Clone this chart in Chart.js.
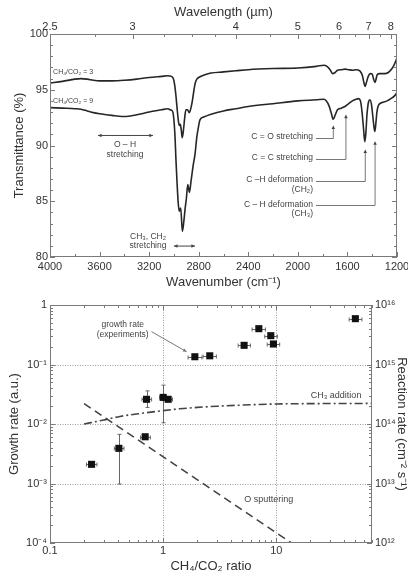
<!DOCTYPE html>
<html>
<head>
<meta charset="utf-8">
<script src="https://cdn.jsdelivr.net/npm/chart.js@4.4.0/dist/chart.umd.min.js"></script>
<style>
  html, body { margin: 0; padding: 0; background: #fff; }
  #box1 { position: absolute; left: 0; top: 0; }
  #box2 { position: absolute; left: 0; top: 292px; }
</style>
</head>
<body>
<div id="box1"><canvas id="irChart" width="408" height="292"></canvas></div>
<div id="box2"><canvas id="rateChart" width="408" height="285"></canvas></div>
<script>
// ---- IR spectra: wavenumber (cm-1) and transmittance (%) ----
const wn3 = [4000, 3900, 3800, 3750, 3700, 3650, 3600, 3500, 3400, 3300, 3200, 3100, 3050, 3020, 3005, 2995, 2985, 2975, 2965, 2957, 2948, 2940, 2933, 2922, 2912, 2903, 2890, 2876, 2862, 2850, 2838, 2828, 2815, 2800, 2750, 2700, 2600, 2500, 2400, 2200, 2000, 1850, 1790, 1765, 1740, 1720, 1705, 1680, 1650, 1620, 1590, 1560, 1530, 1500, 1480, 1468, 1458, 1448, 1432, 1415, 1400, 1390, 1378, 1370, 1360, 1340, 1300, 1270, 1240, 1220, 1200];
const trans3 = [95.6, 95.75, 95.95, 96.0, 95.95, 95.85, 95.8, 95.8, 95.85, 95.95, 96.1, 96.2, 96.25, 96.2, 96.0, 95.5, 94.6, 93.4, 92.3, 91.8, 91.9, 91.3, 90.7, 91.5, 92.6, 93.2, 93.2, 92.95, 93.4, 94.1, 95.0, 95.6, 95.95, 96.1, 96.35, 96.5, 96.6, 96.7, 96.8, 96.9, 96.95, 97.1, 97.2, 97.1, 96.8, 96.45, 96.5, 96.75, 96.8, 96.85, 96.8, 96.75, 96.8, 96.7, 96.3, 95.7, 95.3, 95.6, 96.2, 96.45, 96.4, 96.0, 95.65, 95.9, 96.35, 96.45, 96.45, 96.55, 96.9, 97.3, 97.85];

const wn9 = [4000, 3900, 3800, 3750, 3700, 3650, 3600, 3500, 3420, 3350, 3300, 3200, 3100, 3050, 3030, 3010, 2998, 2990, 2984, 2975, 2965, 2957, 2945, 2932, 2920, 2910, 2900, 2888, 2875, 2862, 2845, 2830, 2815, 2803, 2790, 2760, 2700, 2600, 2500, 2400, 2200, 2000, 1850, 1790, 1770, 1750, 1730, 1715, 1700, 1680, 1650, 1620, 1590, 1560, 1530, 1510, 1495, 1482, 1470, 1460, 1452, 1442, 1430, 1418, 1405, 1395, 1385, 1379, 1372, 1362, 1350, 1320, 1280, 1250, 1220, 1200];
const trans9 = [93.4, 93.35, 93.3, 93.25, 93.1, 92.95, 92.85, 92.7, 92.6, 92.65, 92.75, 93.0, 93.2, 93.3, 93.2, 93.05, 92.0, 90.5, 88.8, 86.7, 84.8, 84.1, 84.4, 82.3, 83.2, 84.3, 85.2, 86.5, 85.8, 86.8, 88.2, 89.2, 90.8, 91.6, 92.3, 92.55, 92.8, 93.1, 93.3, 93.5, 93.75, 94.0, 94.1, 94.15, 94.0, 93.6, 92.9, 92.35, 92.7, 93.2, 93.35, 93.5, 93.75, 94.0, 94.15, 94.2, 94.0, 93.0, 91.5, 90.35, 91.0, 92.8, 93.9, 94.1, 93.6, 92.6, 91.6, 91.25, 91.8, 93.0, 93.6, 93.85, 94.0, 94.2, 94.45, 94.75];

const wnLabels = [4000, 3600, 3200, 2800, 2400, 2000, 1600, 1200];
const transLabels = [80, 85, 90, 95, 100];
const lambdaLabels = [2.5, 3, 4, 5, 6, 7, 8];
const lambdaMinor = [2.75, 3.25, 3.5, 3.75, 4.5, 5.5, 6.5, 7.5];

// ---- growth rate vs CH4/CO2 ratio ----
const ratio    = [0.233, 0.406, 0.693, 0.713, 1.0, 1.107, 1.905, 2.58, 5.19, 7.0, 8.93, 9.42, 49.9];
const growth   = [0.0021, 0.0039, 0.0061, 0.026, 0.028, 0.026, 0.135, 0.14, 0.21, 0.40, 0.305, 0.221, 0.589];
const ratioLo  = [0.21, 0.37, 0.63, 0.65, 0.93, 1.0, 1.66, 2.25, 4.6, 6.1, 7.9, 8.3, 44];
const ratioHi  = [0.26, 0.45, 0.77, 0.79, 1.07, 1.21, 2.2, 2.95, 5.9, 8.0, 10.2, 10.7, 57];
const growthLo = [null, 0.00098, null, 0.019, 0.0105, null, null, null, null, null, null, null, null];
const growthHi = [null, 0.0067, null, 0.036, 0.045, null, null, null, null, null, null, null, null];

const ch3Ratio = [0.2, 0.3, 0.415, 0.7, 1, 1.4, 2, 3, 5, 10, 20, 40, 70];
const ch3Rate  = [0.01, 0.0117, 0.0134, 0.0154, 0.0168, 0.018, 0.019, 0.0199, 0.0208, 0.0217, 0.022, 0.0221, 0.0222];
const oRatio   = [0.2, 13.6];
const oRate    = [0.022, 0.0001];

const ratioTickVals = [0.1, 1, 10];
const ratioTickText = ['0.1', '1', '10'];
const growthTickVals = [1e-4, 1e-3, 1e-2, 1e-1, 1];
const growthTickText = ['10⁻⁴', '10⁻³', '10⁻²', '10⁻¹', '1'];
const reactTickVals = [1e12, 1e13, 1e14, 1e15, 1e16];
const reactTickText = ['10¹²', '10¹³', '10¹⁴', '10¹⁵', '10¹⁶'];

Chart.defaults.font.family = "'Liberation Sans', Arial, Helvetica, sans-serif";
Chart.defaults.color = '#333';

const FRAME = '#7a7a7a';
const NOTE = '#444';

function pickLabel(vals, texts, v) {
  const i = vals.findIndex(t => Math.abs(t - v) <= Math.abs(t) * 1e-6);
  return i < 0 ? '' : texts[i];
}

function logTicks(min, max) {
  const out = [];
  for (let e = Math.floor(Math.log10(min)); e <= Math.ceil(Math.log10(max)); e++) {
    for (let m = 1; m <= 9; m++) {
      const v = m * Math.pow(10, e);
      if (v >= min * 0.999 && v <= max * 1.001) out.push({ value: v });
    }
  }
  return out;
}

function fixSize(prop, size) {
  return s => {
    s[prop] = size;
    s.paddingLeft = 0; s.paddingRight = 0; s.paddingTop = 0; s.paddingBottom = 0;
  };
}

function arrowHead(ctx, x, y, ang, size) {
  ctx.beginPath();
  ctx.moveTo(x, y);
  ctx.lineTo(x - size * Math.cos(ang - 0.45), y - size * Math.sin(ang - 0.45));
  ctx.lineTo(x - size * Math.cos(ang + 0.45), y - size * Math.sin(ang + 0.45));
  ctx.closePath();
  ctx.fill();
}

// frame with inward ticks; sides = {scaleId: ['left','right'...]}
function framePlugin(sides, gridIds) {
  return {
    id: 'frame',
    beforeDatasetsDraw(chart) {
      const { ctx, chartArea: a } = chart;
      ctx.save();
      ctx.strokeStyle = '#9a9a9a';
      ctx.lineWidth = 1;
      ctx.setLineDash([1, 1.5]);
      (gridIds || []).forEach(id => {
        const s = chart.scales[id];
        s.ticks.forEach(t => {
          if (!t.label) return;
          const p = Math.round(s.getPixelForValue(t.value)) + 0.5;
          ctx.beginPath();
          if (s.isHorizontal()) {
            if (p < a.left + 2 || p > a.right - 2) return;
            ctx.moveTo(p, a.top); ctx.lineTo(p, a.bottom);
          } else {
            if (p < a.top + 2 || p > a.bottom - 2) return;
            ctx.moveTo(a.left, p); ctx.lineTo(a.right, p);
          }
          ctx.stroke();
        });
      });
      ctx.restore();
    },
    afterDraw(chart) {
      const { ctx, chartArea: a } = chart;
      ctx.save();
      ctx.strokeStyle = FRAME;
      ctx.lineWidth = 1;
      ctx.strokeRect(a.left + 0.5, a.top + 0.5, a.right - a.left - 1, a.bottom - a.top - 1);
      Object.keys(sides).forEach(id => {
        const s = chart.scales[id];
        s.ticks.forEach(t => {
          const len = t.label ? 5 : 3;
          const p = Math.round(s.getPixelForValue(t.value)) + 0.5;
          ctx.beginPath();
          sides[id].forEach(side => {
            if (side === 'bottom') { ctx.moveTo(p, a.bottom); ctx.lineTo(p, a.bottom - len); }
            if (side === 'top') { ctx.moveTo(p, a.top); ctx.lineTo(p, a.top + len); }
            if (side === 'left') { ctx.moveTo(a.left, p); ctx.lineTo(a.left + len, p); }
            if (side === 'right') { ctx.moveTo(a.right, p); ctx.lineTo(a.right - len, p); }
          });
          ctx.stroke();
        });
      });
      ctx.restore();
    }
  };
}

// ---------------- top chart: IR spectra ----------------
const callouts = [
  { lines: ['C = O stretching'], t: 90.78, wn: 1714, tip: 91.8 },
  { lines: ['C = C stretching'], t: 88.87, wn: 1612, tip: 92.77 },
  { lines: ['C –H deformation', '(CH₂)'], t: 86.9, wn: 1456, tip: 89.64 },
  { lines: ['C – H deformation', '(CH₃)'], t: 84.73, wn: 1377, tip: 90.38 }
];

const irNotes = {
  id: 'irNotes',
  afterDatasetsDraw(chart) {
    const { ctx, scales: { x, y } } = chart;
    ctx.save();
    ctx.fillStyle = NOTE;
    ctx.strokeStyle = NOTE;
    ctx.lineWidth = 1;
    ctx.textBaseline = 'middle';

    ctx.font = "7px 'Liberation Sans', Arial, sans-serif";
    ctx.textAlign = 'left';
    ctx.fillText('CH₄/CO₂ = 3', x.getPixelForValue(3975), y.getPixelForValue(96.55));
    ctx.fillText('CH₄/CO₂ = 9', x.getPixelForValue(3975), y.getPixelForValue(93.95));

    ctx.font = "8.5px 'Liberation Sans', Arial, sans-serif";
    // double arrows for stretching bands
    const span = (w1, w2, t) => {
      const x1 = x.getPixelForValue(w1), x2 = x.getPixelForValue(w2), py = y.getPixelForValue(t);
      ctx.beginPath(); ctx.moveTo(x1, py); ctx.lineTo(x2, py); ctx.stroke();
      arrowHead(ctx, x1, py, Math.PI, 4);
      arrowHead(ctx, x2, py, 0, 4);
    };
    span(3613, 3169, 90.9);
    ctx.textAlign = 'center';
    ctx.fillText('O – H', x.getPixelForValue(3395), y.getPixelForValue(90.05));
    ctx.fillText('stretching', x.getPixelForValue(3395), y.getPixelForValue(89.2));

    span(3000, 2830, 80.98);
    ctx.fillText('CH₃, CH₂', x.getPixelForValue(3209), y.getPixelForValue(81.85));
    ctx.fillText('stretching', x.getPixelForValue(3209), y.getPixelForValue(80.98));

    // callouts to the fingerprint bands
    ctx.strokeStyle = '#777';
    ctx.fillStyle = NOTE;
    callouts.forEach(c => {
      const tx = x.getPixelForValue(1878), ty = y.getPixelForValue(c.t);
      ctx.textAlign = 'right';
      c.lines.forEach((l, i) => ctx.fillText(l, tx, ty + i * 9.5));
      const lx = x.getPixelForValue(c.wn), ly = Math.round(ty + 1) + 0.5;
      const tipY = y.getPixelForValue(c.tip);
      ctx.beginPath();
      ctx.moveTo(tx + 3, ly);
      ctx.lineTo(lx, ly);
      ctx.lineTo(lx, tipY + 3);
      ctx.stroke();
      arrowHead(ctx, lx, tipY, -Math.PI / 2, 4);
    });
    ctx.restore();
  }
};

const axisFont = { size: 11 };
const titleFont = { size: 13 };

new Chart(document.getElementById('irChart'), {
  type: 'line',
  data: {
    datasets: [
      { label: 'CH4/CO2 = 3', data: wn3.map((w, i) => ({ x: w, y: trans3[i] })) },
      { label: 'CH4/CO2 = 9', data: wn9.map((w, i) => ({ x: w, y: trans9[i] })) }
    ]
  },
  options: {
    responsive: false,
    animation: false,
    devicePixelRatio: 1,
    layout: { padding: { right: 11 } },
    plugins: { legend: { display: false }, tooltip: { enabled: false } },
    elements: {
      point: { radius: 0 },
      line: { borderWidth: 1.6, borderColor: '#262626', cubicInterpolationMode: 'monotone' }
    },
    scales: {
      x: {
        type: 'linear', position: 'bottom', min: 1200, max: 4000, reverse: true,
        grid: { display: false, drawTicks: false }, border: { display: false },
        afterBuildTicks: s => {
          const t = [];
          for (let v = 1200; v <= 4000; v += 200) t.push({ value: v });
          s.ticks = t;
        },
        ticks: { autoSkip: false, maxRotation: 0, padding: 3, font: axisFont,
          callback: v => wnLabels.includes(v) ? String(v) : '' },
        title: { display: true, text: 'Wavenumber (cm⁻¹)', font: titleFont, padding: { top: 0, bottom: 2.2 } },
        afterFit: fixSize('height', 35)
      },
      x2: {
        type: 'linear', position: 'top', min: 1200, max: 4000, reverse: true,
        grid: { display: false, drawTicks: false }, border: { display: false },
        afterBuildTicks: s => {
          s.ticks = lambdaLabels.concat(lambdaMinor).map(l => ({ value: 1e4 / l }));
        },
        ticks: { autoSkip: false, maxRotation: 0, padding: 0, font: axisFont,
          callback: v => {
            const l = Math.round(1e5 / v) / 10;
            return lambdaLabels.includes(l) ? String(l) : '';
          } },
        title: { display: true, text: 'Wavelength (µm)', font: titleFont, padding: { top: 5, bottom: 0 } },
        afterFit: fixSize('height', 34)
      },
      y: {
        type: 'linear', min: 80, max: 100,
        grid: { display: false, drawTicks: false }, border: { display: false },
        afterBuildTicks: s => {
          const t = [];
          for (let v = 80; v <= 100; v++) t.push({ value: v });
          s.ticks = t;
        },
        ticks: { autoSkip: false, padding: 2, font: axisFont,
          callback: v => transLabels.includes(v) ? String(v) : '' },
        title: { display: true, text: 'Transmittance (%)', font: titleFont, padding: { top: 12, bottom: 0 } },
        afterFit: fixSize('width', 50)
      }
    }
  },
  plugins: [framePlugin({ x: ['bottom'], x2: ['top'], y: ['left', 'right'] }), irNotes]
});

// ---------------- bottom chart: growth / reaction rate ----------------
const errorBars = {
  id: 'errorBars',
  beforeDatasetsDraw(chart) {
    const { ctx, scales: { x, y } } = chart;
    ctx.save();
    ctx.strokeStyle = '#666';
    ctx.lineWidth = 1;
    ratio.forEach((r, i) => {
      const px = Math.round(x.getPixelForValue(r)) + 0.5;
      const py = Math.round(y.getPixelForValue(growth[i])) + 0.5;
      const xl = x.getPixelForValue(ratioLo[i]), xh = x.getPixelForValue(ratioHi[i]);
      ctx.beginPath();
      ctx.moveTo(xl, py); ctx.lineTo(xh, py);
      ctx.moveTo(xl, py - 2); ctx.lineTo(xl, py + 2);
      ctx.moveTo(xh, py - 2); ctx.lineTo(xh, py + 2);
      if (growthLo[i] != null) {
        const yl = y.getPixelForValue(growthLo[i]), yh = y.getPixelForValue(growthHi[i]);
        ctx.moveTo(px, yl); ctx.lineTo(px, yh);
        ctx.moveTo(px - 2, yl); ctx.lineTo(px + 2, yl);
        ctx.moveTo(px - 2, yh); ctx.lineTo(px + 2, yh);
      }
      ctx.stroke();
    });
    ctx.restore();
  }
};

const rateNotes = {
  id: 'rateNotes',
  afterDatasetsDraw(chart) {
    const { ctx, scales: { x, y } } = chart;
    ctx.save();
    ctx.fillStyle = NOTE;
    ctx.textBaseline = 'middle';
    ctx.font = "8.5px 'Liberation Sans', Arial, sans-serif";
    ctx.textAlign = 'center';
    ctx.fillText('growth rate', x.getPixelForValue(0.439), y.getPixelForValue(0.461));
    ctx.fillText('(experiments)', x.getPixelForValue(0.439), y.getPixelForValue(0.313));
    ctx.font = "9px 'Liberation Sans', Arial, sans-serif";
    ctx.fillText('O sputtering', x.getPixelForValue(8.57), y.getPixelForValue(5.28e-4));
    ctx.textAlign = 'right';
    ctx.fillText('CH₃ addition', x.getPixelForValue(56.4), y.getPixelForValue(0.0296));

    const x1 = x.getPixelForValue(0.79), y1 = y.getPixelForValue(0.356);
    const x2 = x.getPixelForValue(1.61), y2 = y.getPixelForValue(0.164);
    ctx.strokeStyle = '#777';
    ctx.fillStyle = '#777';
    ctx.lineWidth = 1;
    ctx.beginPath(); ctx.moveTo(x1, y1); ctx.lineTo(x2, y2); ctx.stroke();
    arrowHead(ctx, x2, y2, Math.atan2(y2 - y1, x2 - x1), 4);
    ctx.restore();
  }
};

new Chart(document.getElementById('rateChart'), {
  type: 'scatter',
  data: {
    datasets: [
      { label: 'growth rate (experiments)', data: ratio.map((r, i) => ({ x: r, y: growth[i] })),
        pointStyle: 'rect', pointRadius: 5, backgroundColor: '#111', borderColor: '#111', borderWidth: 0 },
      { label: 'CH3 addition', data: ch3Ratio.map((r, i) => ({ x: r, y: ch3Rate[i] })), showLine: true,
        pointRadius: 0, borderColor: '#444', borderWidth: 1.6, borderDash: [8, 3, 2, 3], cubicInterpolationMode: 'monotone' },
      { label: 'O sputtering', data: oRatio.map((r, i) => ({ x: r, y: oRate[i] })), showLine: true,
        pointRadius: 0, borderColor: '#444', borderWidth: 1.6, borderDash: [8, 5] }
    ]
  },
  options: {
    responsive: false,
    animation: false,
    devicePixelRatio: 1,
    layout: { padding: { top: 13 } },
    plugins: { legend: { display: false }, tooltip: { enabled: false } },
    scales: {
      x: {
        type: 'logarithmic', position: 'bottom', min: 0.1, max: 70,
        grid: { display: false, drawTicks: false }, border: { display: false },
        afterBuildTicks: s => { s.ticks = logTicks(0.1, 70); },
        ticks: { autoSkip: false, maxRotation: 0, padding: 1, font: axisFont,
          callback: v => pickLabel(ratioTickVals, ratioTickText, v) },
        title: { display: true, text: 'CH₄/CO₂ ratio', font: titleFont, padding: { top: 0, bottom: 2.5 } },
        afterFit: fixSize('height', 34)
      },
      y: {
        type: 'logarithmic', position: 'left', min: 1e-4, max: 1,
        grid: { display: false, drawTicks: false }, border: { display: false },
        afterBuildTicks: s => { s.ticks = logTicks(1e-4, 1); },
        ticks: { autoSkip: false, padding: 3, font: axisFont,
          callback: v => pickLabel(growthTickVals, growthTickText, v) },
        title: { display: true, text: 'Growth rate (a.u.)', font: titleFont, padding: { top: 7, bottom: 0 } },
        afterFit: fixSize('width', 50)
      },
      y2: {
        type: 'logarithmic', position: 'right', min: 1e12, max: 1e16,
        grid: { display: false, drawTicks: false }, border: { display: false },
        afterBuildTicks: s => { s.ticks = logTicks(1e12, 1e16); },
        ticks: { autoSkip: false, padding: 3, font: axisFont,
          callback: v => pickLabel(reactTickVals, reactTickText, v) },
        title: { display: true, text: 'Reaction rate (cm⁻² s⁻¹)', font: { size: 13, lineHeight: 1 }, padding: { top: 0, bottom: 0 } },
        afterFit: fixSize('width', 36)
      }
    }
  },
  plugins: [framePlugin({ x: ['bottom', 'top'], y: ['left'], y2: ['right'] }, ['x', 'y']), errorBars, rateNotes]
});
</script>
</body>
</html>
